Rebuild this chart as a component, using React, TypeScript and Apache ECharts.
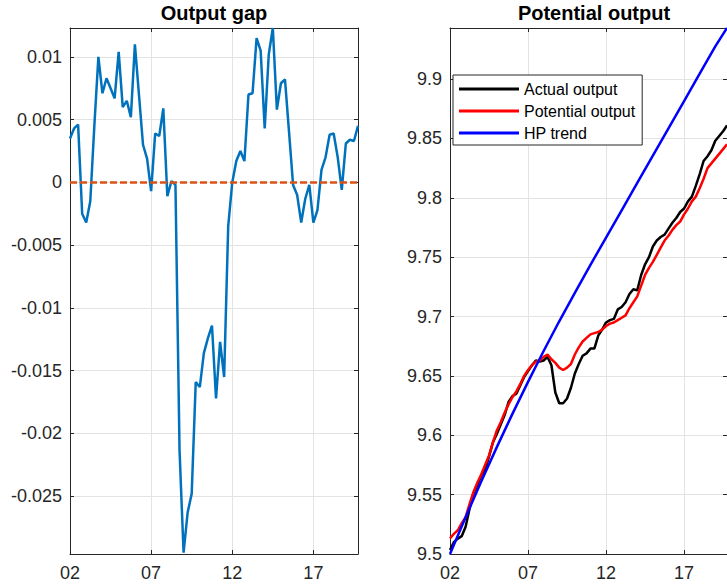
import React, { useEffect, useRef } from "react";
import * as echarts from "echarts";

// Quarterly data, 2002Q1 .. 2019Q4 (x = years since 2002)
const START_YEAR = 2002;
const QUARTER = 0.25;
const X_TICK_LABELS = ["02", "07", "12", "17"];

const outputGap = [
  0.0035, 0.0043, 0.0046, -0.0025, -0.0032, -0.0015, 0.0045, 0.0100,
  0.0071, 0.0083, 0.0075, 0.0067, 0.0104, 0.0060, 0.0065, 0.0052,
  0.0110, 0.0070, 0.0030, 0.0019, -0.0007, 0.0039, 0.0037, 0.0059,
  -0.0011, 0.0001, -0.0002, -0.0213, -0.0295, -0.0263, -0.0248, -0.0159,
  -0.0163, -0.0136, -0.0124, -0.0114, -0.0172, -0.0127, -0.0155, -0.0035,
  0.0000, 0.0017, 0.0025, 0.0017, 0.0070, 0.0071, 0.0115, 0.0105,
  0.0043, 0.0102, 0.0123, 0.0058, 0.0079, 0.0082, 0.0040, -0.0002,
  -0.0010, -0.0032, -0.0013, -0.0002, -0.0032, -0.0022, 0.0010, 0.0020,
  0.0038, 0.0039, 0.0020, -0.0006, 0.0031, 0.0034, 0.0033, 0.0045,
];

const actualOutput = [
  9.5034, 9.510, 9.513, 9.515, 9.523, 9.538, 9.551, 9.558,
  9.566, 9.571, 9.582, 9.594, 9.601, 9.609, 9.617, 9.628,
  9.633, 9.635, 9.642, 9.649, 9.654, 9.659, 9.663, 9.662,
  9.663, 9.666, 9.659, 9.636, 9.627, 9.627, 9.631, 9.640,
  9.652, 9.660, 9.667, 9.669, 9.673, 9.673, 9.684, 9.689,
  9.695, 9.697, 9.698, 9.706, 9.708, 9.712, 9.719, 9.723,
  9.722, 9.735, 9.744, 9.750, 9.759, 9.764, 9.767, 9.769,
  9.774, 9.779, 9.783, 9.788, 9.791, 9.797, 9.801, 9.810,
  9.820, 9.831, 9.835, 9.840, 9.848, 9.852, 9.856, 9.861,
];

const potentialOutput = [
  9.513, 9.517, 9.520, 9.526, 9.531, 9.542, 9.552, 9.560,
  9.567, 9.575, 9.583, 9.594, 9.604, 9.611, 9.619, 9.626,
  9.632, 9.637, 9.643, 9.650, 9.655, 9.659, 9.662, 9.663,
  9.666, 9.668, 9.664, 9.661, 9.657, 9.655, 9.657, 9.660,
  9.668, 9.674, 9.679, 9.682, 9.685, 9.686, 9.687, 9.689,
  9.692, 9.694, 9.695, 9.697, 9.699, 9.701, 9.707, 9.712,
  9.717, 9.726, 9.735, 9.741, 9.746, 9.752, 9.758, 9.764,
  9.768, 9.773, 9.777, 9.780, 9.786, 9.791, 9.797, 9.801,
  9.808, 9.816, 9.825, 9.829, 9.833, 9.837, 9.841, 9.845,
];

const hpTrendYears = [
  2002, 2003, 2004, 2005, 2006, 2007, 2008, 2009, 2010, 2011,
  2012, 2013, 2014, 2015, 2016, 2017, 2018, 2019, 2019.75,
];
const hpTrend = [
  9.500, 9.531, 9.561, 9.590, 9.618, 9.645, 9.671, 9.696, 9.720, 9.7435,
  9.7665, 9.7895, 9.8125, 9.8355, 9.8585, 9.8815, 9.9045, 9.9275, 9.943,
];

const GAP_MIN = -0.0296;
const GAP_MAX = 0.0123;
const LEVEL_MIN = 9.5;
const LEVEL_MAX = 9.943;

const FONT = "'Liberation Sans', Arial, Helvetica, sans-serif";
const AXIS_COLOR = "#262626";
const GRID_COLOR = "#e3e3e3";

export default function App() {
  const ref = useRef<HTMLDivElement>(null);

  useEffect(() => {
    if (!ref.current) return;
    const chart = echarts.init(ref.current, undefined, { renderer: "svg" });

    const xEnd = (outputGap.length - 1) * QUARTER;
    const quarterly = (arr: number[]) => arr.map((v, i) => [i * QUARTER, v]);

    const xLabel = (v: number) => {
      const k = Math.round(v / 5);
      return Math.abs(v - k * 5) < 1e-9 && k < X_TICK_LABELS.length ? X_TICK_LABELS[k] : "";
    };

    const axisLine = { show: true, onZero: false, lineStyle: { color: AXIS_COLOR, width: 1 } };
    const axisTick = { show: true, inside: true, length: 4, lineStyle: { color: AXIS_COLOR } };

    const bottomX = (gridIndex: number) => ({
      type: "value",
      gridIndex,
      position: "bottom",
      min: 0,
      max: xEnd,
      interval: 5,
      axisLine,
      axisTick,
      axisLabel: {
        show: true,
        margin: 10,
        fontSize: 18,
        color: AXIS_COLOR,
        fontFamily: FONT,
        showMaxLabel: false,
        formatter: xLabel,
      },
      splitLine: { show: true, lineStyle: { color: GRID_COLOR, width: 1 } },
    });
    const topX = (gridIndex: number) => ({
      type: "value",
      gridIndex,
      position: "top",
      min: 0,
      max: xEnd,
      interval: 5,
      axisLine,
      axisTick,
      axisLabel: { show: false },
      splitLine: { show: false },
    });

    const leftY = (gridIndex: number, extra: any) => ({
      type: "value",
      gridIndex,
      position: "left",
      axisLine,
      axisTick,
      axisLabel: {
        show: true,
        margin: 8,
        fontSize: 18,
        color: AXIS_COLOR,
        fontFamily: FONT,
        showMinLabel: extra.showMinLabel,
        showMaxLabel: false,
      },
      splitLine: { show: true, lineStyle: { color: GRID_COLOR, width: 1 } },
      ...extra.scale,
    });
    const rightY = (gridIndex: number, extra: any) => ({
      type: "value",
      gridIndex,
      position: "right",
      axisLine,
      axisTick,
      axisLabel: { show: false },
      splitLine: { show: false },
      ...extra.scale,
    });

    const gapScale = { min: GAP_MIN, max: GAP_MAX, splitNumber: 8 };
    const levelScale = { min: LEVEL_MIN, max: LEVEL_MAX, interval: 0.05 };

    chart.setOption({
      animation: false,
      backgroundColor: "#ffffff",
      textStyle: { fontFamily: FONT },
      title: [
        {
          text: "Output gap",
          left: 214,
          top: 3,
          padding: 0,
          textAlign: "center",
          textStyle: { fontSize: 20, fontWeight: "bold", color: "#000", fontFamily: FONT },
        },
        {
          text: "Potential output",
          left: 594,
          top: 3,
          padding: 0,
          textAlign: "center",
          textStyle: { fontSize: 20, fontWeight: "bold", color: "#000", fontFamily: FONT },
        },
      ],
      grid: [
        { left: 70, top: 28, width: 288, height: 526 },
        { left: 450, top: 28, width: 289, height: 526 },
      ],
      xAxis: [bottomX(0), topX(0), bottomX(1), topX(1)],
      yAxis: [
        leftY(0, { scale: gapScale, showMinLabel: false }),
        rightY(0, { scale: gapScale }),
        leftY(1, { scale: levelScale, showMinLabel: true }),
        rightY(1, { scale: levelScale }),
      ],
      legend: {
        orient: "vertical",
        left: 453,
        top: 75,
        padding: [6, 7, 4, 6],
        itemGap: 6,
        itemWidth: 60,
        itemHeight: 3,
        icon: "rect",
        backgroundColor: "#ffffff",
        borderColor: AXIS_COLOR,
        borderWidth: 1,
        borderRadius: 0,
        textStyle: { fontSize: 16, lineHeight: 16, color: "#000", fontFamily: FONT },
        data: ["Actual output", "Potential output", "HP trend"],
      },
      series: [
        {
          name: "Output gap",
          type: "line",
          xAxisIndex: 0,
          yAxisIndex: 0,
          data: quarterly(outputGap),
          showSymbol: false,
          lineStyle: { color: "#0072BD", width: 2.5 },
          itemStyle: { color: "#0072BD" },
        },
        {
          name: "Zero",
          type: "line",
          xAxisIndex: 0,
          yAxisIndex: 0,
          data: [
            [0, 0],
            [xEnd, 0],
          ],
          showSymbol: false,
          lineStyle: { color: "#D95319", width: 2.5, type: [7, 3] },
          itemStyle: { color: "#D95319" },
        },
        {
          name: "Actual output",
          type: "line",
          xAxisIndex: 2,
          yAxisIndex: 2,
          data: quarterly(actualOutput),
          showSymbol: false,
          lineStyle: { color: "#000000", width: 2.5 },
          itemStyle: { color: "#000000" },
        },
        {
          name: "Potential output",
          type: "line",
          xAxisIndex: 2,
          yAxisIndex: 2,
          data: quarterly(potentialOutput),
          showSymbol: false,
          lineStyle: { color: "#FF0000", width: 2.5 },
          itemStyle: { color: "#FF0000" },
        },
        {
          name: "HP trend",
          type: "line",
          xAxisIndex: 2,
          yAxisIndex: 2,
          data: hpTrendYears.map((y, i) => [y - START_YEAR, hpTrend[i]]),
          showSymbol: false,
          lineStyle: { color: "#0000FF", width: 2.5 },
          itemStyle: { color: "#0000FF" },
        },
      ],
    });

    return () => chart.dispose();
  }, []);

  return (
    <div
      ref={ref}
      style={{ position: "absolute", left: 0, top: 0, width: 727, height: 585, background: "#fff" }}
    />
  );
}
